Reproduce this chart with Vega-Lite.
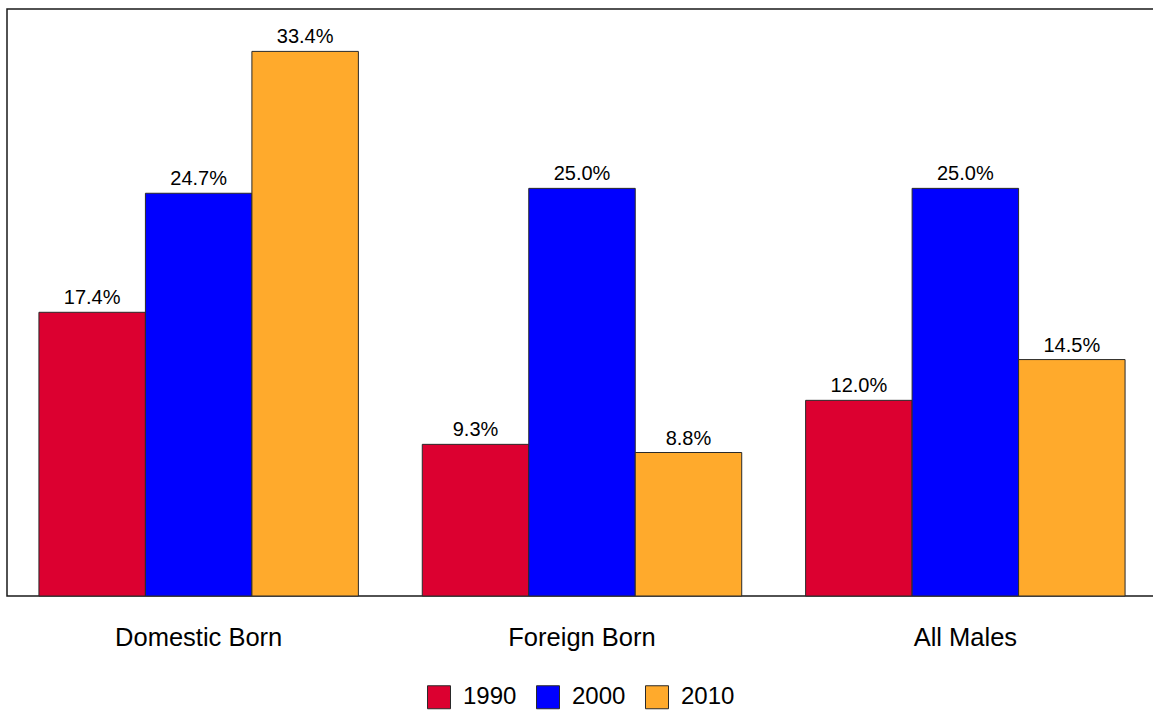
{
  "$schema": "https://vega.github.io/schema/vega-lite/v6.json",
  "width": 1150,
  "height": 587,
  "padding": {"left": 7, "top": 9, "right": 0, "bottom": 117},
  "autosize": {"type": "none"},
  "background": "white",
  "config": {
    "font": "Liberation Sans",
    "view": {"stroke": "#1a1a1a", "strokeWidth": 1.5}
  },
  "data": {
    "values": [
      {"group": "Domestic Born", "year": "1990", "share": 0.174},
      {"group": "Domestic Born", "year": "2000", "share": 0.247},
      {"group": "Domestic Born", "year": "2010", "share": 0.334},
      {"group": "Foreign Born", "year": "1990", "share": 0.093},
      {"group": "Foreign Born", "year": "2000", "share": 0.250},
      {"group": "Foreign Born", "year": "2010", "share": 0.088},
      {"group": "All Males", "year": "1990", "share": 0.120},
      {"group": "All Males", "year": "2000", "share": 0.250},
      {"group": "All Males", "year": "2010", "share": 0.145}
    ]
  },
  "encoding": {
    "x": {
      "field": "group",
      "type": "nominal",
      "sort": ["Domestic Born", "Foreign Born", "All Males"],
      "scale": {"paddingInner": 0.1667, "paddingOuter": 0.0833},
      "axis": {
        "title": null,
        "labelAngle": 0,
        "ticks": false,
        "domain": false,
        "labelFontSize": 25.5,
        "labelColor": "#000000",
        "labelPadding": 29
      }
    },
    "xOffset": {
      "field": "year",
      "type": "nominal",
      "scale": {"paddingInner": 0, "paddingOuter": 0}
    },
    "y": {
      "field": "share",
      "type": "quantitative",
      "scale": {"domain": [0, 0.36], "nice": false},
      "axis": null
    }
  },
  "layer": [
    {
      "mark": {"type": "bar", "stroke": "#2a2a2a", "strokeWidth": 1},
      "encoding": {
        "color": {
          "field": "year",
          "type": "nominal",
          "scale": {"domain": ["1990", "2000", "2010"], "range": ["#DC0030", "#0000FF", "#FFAA2C"]},
          "legend": {
            "title": null,
            "orient": "none",
            "direction": "horizontal",
            "legendX": 420,
            "legendY": 676,
            "padding": 0,
            "symbolType": "square",
            "symbolSize": 529,
            "symbolStrokeColor": "#2a2a2a",
            "symbolStrokeWidth": 1,
            "symbolOpacity": 1,
            "labelFontSize": 24,
            "labelColor": "#000000",
            "labelOffset": 12,
            "columnPadding": 17
          }
        }
      }
    },
    {
      "mark": {"type": "text", "baseline": "bottom", "dy": -4, "fontSize": 20, "color": "#000000"},
      "encoding": {
        "text": {"field": "share", "type": "quantitative", "format": ".1%"}
      }
    }
  ]
}
